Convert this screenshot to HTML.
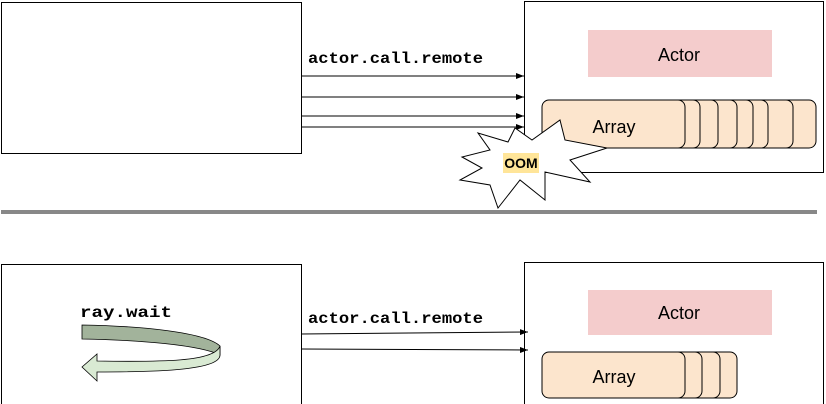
<!DOCTYPE html>
<html><head><meta charset="utf-8"><style>body{margin:0;background:#fff}svg{display:block}</style></head><body>
<svg width="826" height="404" viewBox="0 0 826 404" xmlns="http://www.w3.org/2000/svg">
<defs><marker id="a" markerWidth="8" markerHeight="6" refX="8" refY="3" orient="auto"><path d="M0,0L8,3L0,6z" fill="#000"/></marker></defs>
<g fill="none" stroke="#000" stroke-width="1">
<rect x="1.5" y="2.5" width="300" height="151"/>
<rect x="524.5" y="1.5" width="299" height="171"/>
<rect x="1.5" y="264.5" width="300" height="140"/>
<rect x="524.5" y="262.5" width="299" height="142"/>
<line x1="301" y1="76" x2="524" y2="76" marker-end="url(#a)"/>
<line x1="301" y1="97" x2="524" y2="97" marker-end="url(#a)"/>
<line x1="301" y1="116" x2="524" y2="116" marker-end="url(#a)"/>
<line x1="301" y1="127" x2="524" y2="127" marker-end="url(#a)"/>
<line x1="301" y1="334" x2="528" y2="332" marker-end="url(#a)"/>
<line x1="301" y1="349" x2="528" y2="350" marker-end="url(#a)"/>
</g>
<rect x="588" y="30" width="184" height="47" fill="#f4cccc"/>
<rect x="588" y="290" width="184" height="45" fill="#f4cccc"/>
<g fill="#fce5cd" stroke="#000" stroke-width="1">
<rect x="673" y="100" width="143" height="48" rx="7"/>
<rect x="650" y="100" width="143" height="48" rx="7"/>
<rect x="625" y="100" width="143" height="48" rx="7"/>
<rect x="610" y="100" width="143" height="48" rx="7"/>
<rect x="594" y="100" width="143" height="48" rx="7"/>
<rect x="575" y="100" width="143" height="48" rx="7"/>
<rect x="557" y="100" width="143" height="48" rx="7"/>
<rect x="542" y="100" width="143" height="48" rx="7"/>
<rect x="594" y="352" width="143" height="46" rx="7"/>
<rect x="577" y="352" width="143" height="46" rx="7"/>
<rect x="559" y="352" width="143" height="46" rx="7"/>
<rect x="542" y="352" width="143" height="46" rx="7"/>
</g>
<polygon points="560,120 565,140 607,148 570,160 590,182 545,172 545,200 520,180 498,208 490,185 460,180 482,168 462,157 490,150 478,133 508,142 515,128 532,140" fill="#fff" stroke="#000" stroke-width="1"/>
<rect x="503" y="153" width="36" height="20" fill="#ffe599"/>
<text x="521" y="168" font-family="Liberation Sans,sans-serif" font-weight="bold" font-size="14" text-anchor="middle">OOM</text>
<rect x="1" y="210" width="816" height="4" fill="#888"/>
<g font-family="Liberation Sans,sans-serif" font-size="18" text-anchor="middle">
<text x="679" y="61">Actor</text><text x="679" y="319">Actor</text>
<text x="614" y="133">Array</text><text x="614" y="383">Array</text>
</g>
<g font-family="Liberation Mono,monospace" font-weight="bold" font-size="16">
<text x="308" y="63" textLength="175" lengthAdjust="spacingAndGlyphs">actor.call.remote</text>
<text x="308" y="323" textLength="175" lengthAdjust="spacingAndGlyphs">actor.call.remote</text>
<text x="80" y="317" textLength="92" lengthAdjust="spacingAndGlyphs">ray.wait</text>
</g>
<path d="M82,325 L82,339 C140,340 200,345 220,355 L220,346 C205,332 140,326 82,325Z" fill="#a2b39b" stroke="#000" stroke-width="0.8"/>
<path d="M220,346 C215,362 160,362 97,361 L97,354 L82,367 L97,381 L97,372 C160,372 220,370 220,355Z" fill="#d9ead3" stroke="#000" stroke-width="0.8"/>
</svg>
</body></html>
